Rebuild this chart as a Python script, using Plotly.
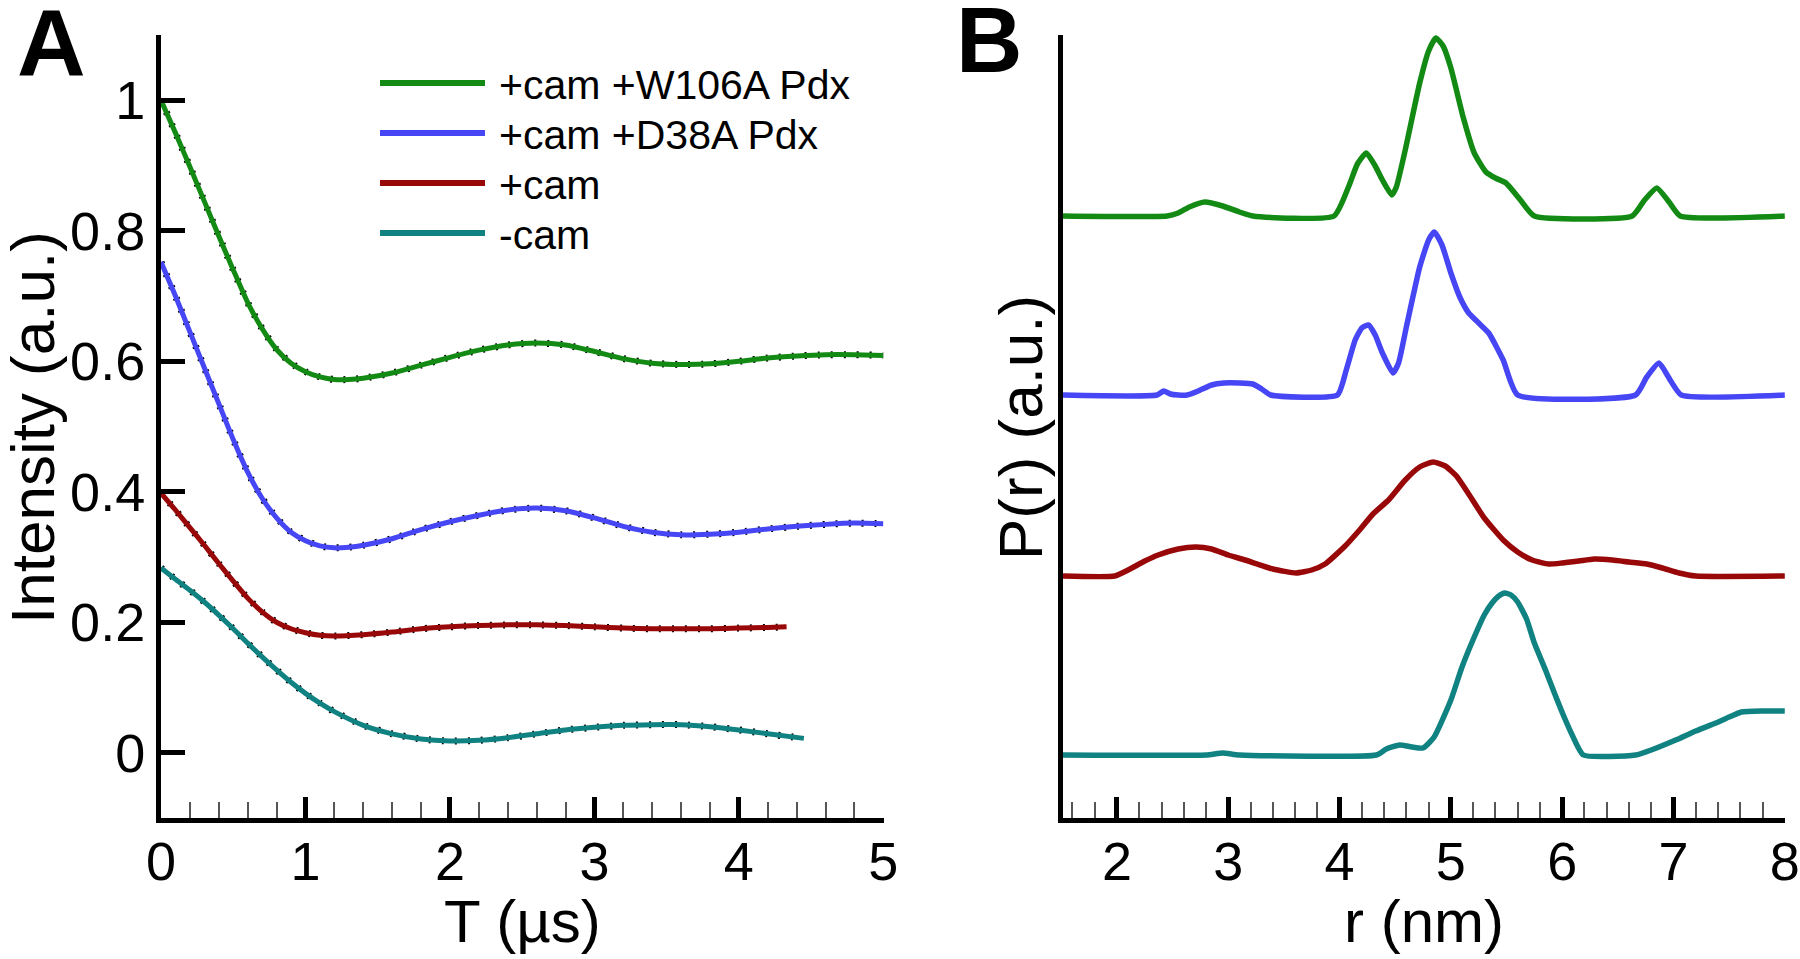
import plotly.graph_objects as go

# ---------------- Panel A data: DEER time traces ----------------
names = ["+cam +W106A Pdx", "+cam +D38A Pdx", "+cam", "-cam"]
colors = ["#138a13", "#4646f5", "#990808", "#108282"]

t_green = [0, 0.1, 0.2, 0.3, 0.4, 0.5, 0.6, 0.7, 0.8, 0.9, 1.0, 1.1, 1.2, 1.3, 1.4, 1.6, 1.8, 2.0, 2.2, 2.4, 2.6,
           2.8, 3.0, 3.2, 3.4, 3.6, 3.8, 4.0, 4.2, 4.4, 4.6, 4.8, 5.0]
v_green = [1.0, 0.95, 0.898, 0.845, 0.792, 0.74, 0.69, 0.65, 0.618, 0.597, 0.584, 0.576, 0.572, 0.572, 0.574, 0.582,
           0.594, 0.606, 0.617, 0.625, 0.628, 0.625, 0.615, 0.604, 0.597, 0.595, 0.596, 0.6, 0.605, 0.608, 0.61, 0.61, 0.609]

t_blue = t_green
v_blue = [0.752, 0.70, 0.645, 0.59, 0.535, 0.48, 0.43, 0.39, 0.36, 0.338, 0.325, 0.317, 0.314, 0.315, 0.318, 0.328,
          0.342, 0.354, 0.364, 0.372, 0.375, 0.371, 0.36, 0.347, 0.338, 0.334, 0.335, 0.338, 0.343, 0.347, 0.35, 0.352, 0.351]

t_red = [0, 0.1, 0.2, 0.3, 0.4, 0.5, 0.6, 0.7, 0.8, 0.9, 1.0, 1.1, 1.2, 1.4, 1.6, 1.8, 2.0, 2.2, 2.4, 2.6, 2.8, 3.0,
         3.2, 3.4, 3.6, 3.8, 4.0, 4.2, 4.33]
v_red = [0.398, 0.372, 0.345, 0.318, 0.29, 0.263, 0.237, 0.216, 0.2, 0.19, 0.184, 0.18, 0.179, 0.181, 0.185, 0.19,
         0.193, 0.195, 0.196, 0.196, 0.195, 0.193, 0.191, 0.19, 0.19, 0.19, 0.191, 0.192, 0.193]

t_teal = [0, 0.1, 0.2, 0.3, 0.4, 0.5, 0.6, 0.7, 0.8, 0.9, 1.0, 1.1, 1.2, 1.4, 1.6, 1.8, 2.0, 2.2, 2.4, 2.6, 2.8, 3.0,
          3.2, 3.4, 3.6, 3.8, 4.0, 4.2, 4.45]
v_teal = [0.283, 0.266, 0.249, 0.231, 0.211, 0.19, 0.168, 0.147, 0.127, 0.108, 0.091, 0.076, 0.063, 0.042, 0.029,
          0.021, 0.018, 0.019, 0.023, 0.029, 0.035, 0.039, 0.042, 0.043, 0.043, 0.04, 0.035, 0.029, 0.022]

# ---------------- Panel B data: distance distributions ----------------
r_green = [1.515, 2.45, 2.55, 2.65, 2.79, 2.95, 3.1, 3.22, 3.95, 4.08, 4.16, 4.24, 4.32, 4.385, 4.47, 4.51, 4.59,
           4.72, 4.8, 4.865, 4.93, 5.0, 5.11, 5.21, 5.315, 5.4, 5.495, 5.625, 5.75, 6.63, 6.74, 6.85, 6.96, 7.06, 8.0]
p_green = [0, 0, 3, 9, 14, 10, 4, 0, 0, 29, 52, 63, 50, 36, 21, 29, 66, 133, 165, 178, 170, 148, 99, 63, 44, 38,
           33, 16, 0, 0, 16, 28, 14, 0, 0]

r_blue = [1.515, 2.36, 2.42, 2.48, 2.55, 2.63, 2.73, 2.85, 2.96, 3.1, 3.22, 3.3, 3.38, 3.98, 4.06, 4.14, 4.2, 4.26,
          4.32, 4.385, 4.48, 4.53, 4.6, 4.72, 4.8, 4.85, 4.92, 5.0, 5.08, 5.16, 5.25, 5.34, 5.47, 5.6, 6.66, 6.76,
          6.87, 6.97, 7.07, 8.0]
p_blue = [0, 0, 4, 1, 0, 0, 4, 10, 12, 12, 11, 6, 0, 0, 25, 55, 67, 70, 60, 42, 22, 32, 68, 128, 155, 163, 150,
          122, 98, 82, 72, 62, 35, 0, 0, 18, 32, 15, 0, 0]

r_red = [1.515, 1.98, 2.1, 2.25, 2.37, 2.55, 2.71, 2.85, 3.0, 3.15, 3.4, 3.61, 3.75, 3.87, 4.05, 4.18, 4.3, 4.44,
         4.59, 4.72, 4.84, 4.95, 5.05, 5.16, 5.3, 5.47, 5.6, 5.73, 5.88, 6.0, 6.15, 6.29, 6.45, 6.6, 6.76, 6.9, 7.05,
         7.2, 8.0]
p_red = [0, 0, 6, 15, 21, 27, 29, 27, 21, 16, 7, 3, 6, 12, 30, 46, 62, 76, 96, 109, 114, 110, 100, 82, 58, 36, 24,
         16, 12, 13, 15, 17, 16, 14, 12, 8, 3, 0, 0]

r_teal = [1.515, 2.8, 2.95, 3.1, 4.33, 4.42, 4.54, 4.65, 4.75, 4.85, 5.0, 5.1, 5.21, 5.3, 5.37, 5.43, 5.485, 5.54,
          5.6, 5.68, 5.75, 5.85, 5.93, 6.01, 6.09, 6.19, 6.66, 6.8, 7.02, 7.2, 7.38, 7.5, 7.61, 7.8, 8.0]
p_teal = [0, 0, 2, 0, 0, 6, 10, 8, 7, 18, 55, 88, 118, 140, 152, 159, 162, 160, 153, 136, 112, 85, 62, 40, 20, 0,
          0, 5, 15, 24, 32, 38, 43, 44, 44]

offsets_B = [6.02, 4.23, 2.42, 0.63]

xticks_A = [0, 1, 2, 3, 4, 5]
yticks_A = [0, 0.2, 0.4, 0.6, 0.8, 1.0]
yticklabels_A = ["0", "0.2", "0.4", "0.6", "0.8", "1"]
xticks_B = [2, 3, 4, 5, 6, 7, 8]

FONT = "Arial, Liberation Sans, Helvetica, sans-serif"

fig = go.Figure()

series_A = [(t_green, v_green), (t_blue, v_blue), (t_red, v_red), (t_teal, v_teal)]
series_B = [(r_green, p_green), (r_blue, p_blue), (r_red, p_red), (r_teal, p_teal)]

# experimental traces (black) under the fits
for (t, v) in series_A:
    fig.add_trace(go.Scatter(x=t, y=v, mode="lines", xaxis="x", yaxis="y",
                             line=dict(color="black", width=7, dash="2px,11px", shape="spline", smoothing=0.6),
                             showlegend=False, hoverinfo="skip"))
for (t, v), c, n in zip(series_A, colors, names):
    fig.add_trace(go.Scatter(x=t, y=v, mode="lines", name=n, xaxis="x", yaxis="y",
                             line=dict(color=c, width=5, shape="spline", smoothing=0.6), showlegend=False))

for (r, p), c, n, off in zip(series_B, colors, names, offsets_B):
    fig.add_trace(go.Scatter(x=r, y=[off + q / 100 for q in p], mode="lines", name=n, xaxis="x2", yaxis="y2",
                             line=dict(color=c, width=5.5, shape="spline", smoothing=0.5), showlegend=False))

W, H = 1800, 959
y_dom = [(H - 818) / H, (H - 35) / H]

axis_common = dict(showgrid=False, zeroline=False, showline=True, linecolor="black", linewidth=5,
                   automargin=False, ticklabeloverflow="allow",
                   tickfont=dict(family=FONT, size=54, color="black"), fixedrange=True)

fig.update_layout(
    width=W, height=H, autosize=False,
    margin=dict(l=0, r=0, t=0, b=0, pad=0),
    paper_bgcolor="white", plot_bgcolor="white",
    xaxis=dict(domain=[161 / W, 883.5 / W], range=[0, 5.001], tickvals=xticks_A, ticks="inside", ticklen=21,
               tickwidth=5, tickcolor="black", anchor="y", ticklabelstandoff=-8,
               minor=dict(dtick=0.2, tick0=0, ticks="inside", ticklen=16, tickwidth=1.5, tickcolor="#555"),
               **axis_common),
    yaxis=dict(domain=y_dom, range=[-0.1, 1.1], tickvals=yticks_A, ticktext=yticklabels_A, ticks="inside",
               ticklen=24, tickwidth=5, tickcolor="black", anchor="x", **axis_common),
    xaxis2=dict(domain=[1063 / W, 1785 / W], range=[1.515, 8.002], tickvals=xticks_B, ticks="inside", ticklen=21,
                tickwidth=5, tickcolor="black", anchor="y2", ticklabelstandoff=-8,
                minor=dict(dtick=0.2, tick0=0, ticks="inside", ticklen=16, tickwidth=1.5, tickcolor="#555"),
                **axis_common),
    yaxis2=dict(domain=y_dom, range=[0, 7.83], showticklabels=False, ticks="", anchor="x2", **axis_common),
)

annotations = [
    dict(text="<b>A</b>", x=51 / W, y=1 - 43 / H, font=dict(family=FONT, size=95, color="black")),
    dict(text="<b>B</b>", x=989 / W, y=1 - 40 / H, font=dict(family=FONT, size=92, color="black")),
    dict(text="Intensity (a.u.)", x=32 / W, y=1 - 428 / H, textangle=-90, font=dict(family=FONT, size=62, color="black")),
    dict(text="P(r) (a.u.)", x=1020 / W, y=1 - 428 / H, textangle=-90, font=dict(family=FONT, size=62, color="black")),
    dict(text="T (µs)", x=522 / W, y=1 - 921 / H, font=dict(family=FONT, size=60, color="black")),
    dict(text="r (nm)", x=1424 / W, y=1 - 921 / H, font=dict(family=FONT, size=60, color="black")),
]
for a in annotations:
    a.update(xref="paper", yref="paper", showarrow=False, xanchor="center", yanchor="middle")

# legend (panel A)
shapes = []
leg_y = [83, 133, 183, 233]
for n, c, yy in zip(names, colors, leg_y):
    shapes.append(dict(type="line", xref="paper", yref="paper", x0=380 / W, x1=485 / W, y0=1 - yy / H,
                       y1=1 - yy / H, line=dict(color=c, width=6)))
    annotations.append(dict(text=n, xref="paper", yref="paper", x=497 / W, y=1 - (yy + 2) / H, xanchor="left",
                            yanchor="middle", showarrow=False, font=dict(family=FONT, size=41, color="black")))

fig.update_layout(annotations=annotations, shapes=shapes)
fig.write_html("out.html", config={"displayModeBar": False},
               post_script="document.body.style.margin='0';document.body.style.overflow='hidden';"
                           "document.documentElement.style.overflow='hidden';")
